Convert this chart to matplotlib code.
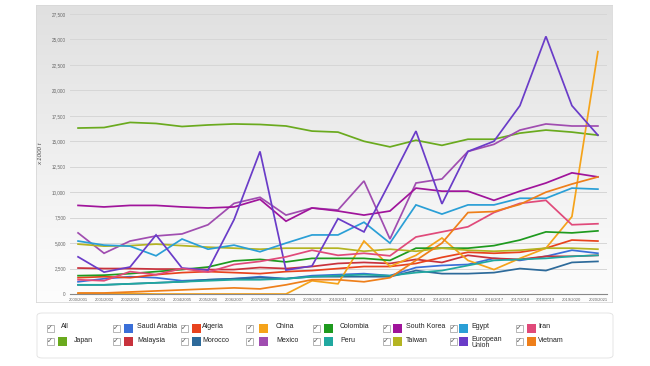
import matplotlib
matplotlib.use('Agg')
import matplotlib.pyplot as plt
import numpy as np
from matplotlib.colors import LinearSegmentedColormap
from matplotlib.patches import Rectangle, FancyBboxPatch

# temporadas
seasons = [f'{y}/{y + 1}' for y in range(2000, 2021)]

# importações de milho (x 1000 t)
japan = [16300, 16350, 16850, 16750, 16450, 16600, 16700, 16650, 16500, 16000, 15900,
         15000, 14450, 15100, 14600, 15200, 15200, 15800, 16100, 15900, 15600]
saudi_arabia = [1200, 1500, 1700, 1600, 1300, 1400, 1500, 1700, 1500, 1800, 1900,
                2000, 1800, 2600, 2800, 2900, 3500, 3300, 3700, 4300, 4000]
malaysia = [2550, 2500, 2500, 2450, 2450, 2400, 2400, 2600, 2500, 2700, 3000,
            3100, 3000, 3400, 3100, 3800, 3500, 3400, 3700, 3700, 3800]
algeria = [1600, 1700, 1600, 1900, 2100, 2200, 2100, 2000, 2200, 2300, 2500,
           2700, 2700, 3000, 3600, 4100, 4000, 4100, 4500, 5300, 5200]
morocco = [900, 900, 1000, 1100, 1200, 1400, 1500, 1600, 1500, 1700, 1700,
           1700, 1700, 2300, 2000, 2000, 2100, 2500, 2300, 3100, 3200]
china = [50, 50, 50, 0, 0, 0, 0, 0, 0, 1300, 1000,
         5200, 2700, 3800, 5500, 3300, 2400, 3500, 4500, 7600, 23800]
mexico = [6000, 4000, 5200, 5700, 5900, 6800, 8900, 9500, 7750, 8450, 8250,
          11100, 5400, 10900, 11300, 14000, 14700, 16100, 16700, 16500, 16500]
colombia = [1800, 1850, 2000, 2200, 2400, 2650, 3250, 3400, 3150, 3500, 3500,
            3500, 3300, 4500, 4500, 4500, 4750, 5300, 6100, 6000, 6200]
peru = [900, 900, 1000, 1100, 1200, 1300, 1400, 1400, 1500, 1700, 1800,
        1900, 1800, 2100, 2300, 2800, 3300, 3400, 3500, 3700, 3800]
south_korea = [8700, 8550, 8700, 8700, 8550, 8450, 8550, 9300, 7150, 8450, 8150,
               7750, 8150, 10400, 10100, 10100, 9200, 10100, 10900, 11900, 11500]
taiwan = [4900, 4700, 4750, 4900, 4750, 4600, 4500, 4400, 4500, 4500, 4500,
          4200, 4400, 4200, 4500, 4300, 4200, 4300, 4500, 4500, 4400]
egypt = [5200, 4800, 4700, 3750, 5400, 4400, 4800, 4150, 5000, 5800, 5800,
         7050, 5000, 8750, 7850, 8750, 8750, 9400, 9400, 10400, 10300]
european_union = [3650, 2150, 2650, 5800, 2550, 2350, 7300, 14000, 2350, 2750, 7400,
                  6100, 11000, 16000, 8850, 14000, 15000, 18500, 25300, 18500, 15600]
iran = [1400, 1300, 2200, 1900, 2500, 2150, 2900, 3200, 3650, 4300, 3800,
        4000, 3750, 5600, 6100, 6600, 8000, 8900, 9200, 6800, 6900]
vietnam = [100, 100, 200, 300, 400, 500, 600, 500, 900, 1400, 1400,
           1200, 1600, 3300, 5000, 8000, 8100, 8800, 10000, 10800, 11500]

series = [
    ('Japan', japan, '#6aaa1e'),
    ('Saudi Arabia', saudi_arabia, '#3a6fd8'),
    ('Malaysia', malaysia, '#c8323c'),
    ('Algeria', algeria, '#e8431e'),
    ('Morocco', morocco, '#2d6a9a'),
    ('China', china, '#f5a31a'),
    ('Mexico', mexico, '#a04db0'),
    ('Colombia', colombia, '#1e9a1e'),
    ('Peru', peru, '#20a8a0'),
    ('South Korea', south_korea, '#a0149b'),
    ('Taiwan', taiwan, '#b4b422'),
    ('Egypt', egypt, '#2a9fd6'),
    ('European Union', european_union, '#6a3cc8'),
    ('Iran', iran, '#e04a7a'),
    ('Vietnam', vietnam, '#ee7f1a'),
]

plt.rcParams['font.family'] = ['Liberation Sans', 'DejaVu Sans']

W, H = 650, 366
fig = plt.figure(figsize=(W / 100, H / 100), dpi=100)


def fx(px):
    return px / W


def fy(py):
    return 1 - py / H


# fundo do gráfico com degradê
bg = fig.add_axes([fx(36), fy(302), fx(612) - fx(36), fy(5) - fy(302)], zorder=0)
grad = np.linspace(0, 1, 256).reshape(-1, 1)
cmap_bg = LinearSegmentedColormap.from_list('bg', ['#e0e0e0', '#efefef', '#fdfdfd'])
bg.imshow(grad, aspect='auto', cmap=cmap_bg, extent=[0, 1, 0, 1])
bg.set_xlim(0, 1)
bg.set_ylim(0, 1)
for s in bg.spines.values():
    s.set_color('#d8d8d8')
    s.set_linewidth(0.6)
bg.set_xticks([])
bg.set_yticks([])

ax = fig.add_axes([fx(70), fy(294), fx(607) - fx(70), fy(14) - fy(294)], zorder=1)
ax.set_facecolor('none')

x = np.arange(len(seasons))
for nome, valores, cor in series:
    ax.plot(x, valores, color=cor, lw=1.25, solid_joinstyle='miter')

ax.set_ylim(0, 27500)
ax.set_xlim(-0.31, 20.35)
yt = np.arange(0, 27501, 2500)
ax.set_yticks(yt)
ax.set_yticklabels([f'{v:,}' for v in yt], fontsize=3.3, color='#666666')
ax.set_xticks(x)
ax.set_xticklabels(seasons, fontsize=3.0, color='#666666')
ax.tick_params(axis='both', length=0, pad=3)
ax.grid(axis='y', color='#d6d6d6', lw=0.7)
ax.set_axisbelow(True)
for lado in ['top', 'right', 'left']:
    ax.spines[lado].set_visible(False)
ax.spines['bottom'].set_color('#888888')
ax.spines['bottom'].set_linewidth(0.8)
ax.set_ylabel('x 1000 t', fontsize=4.6, style='italic', color='#555555', labelpad=6)

# legenda com caixas de seleção
box = FancyBboxPatch((fx(37), fy(358)), fx(613) - fx(37), fy(313) - fy(358),
                     boxstyle='round,pad=0,rounding_size=0.008',
                     transform=fig.transFigure, facecolor='white',
                     edgecolor='#e0e0e0', lw=0.6)
fig.patches.append(box)

colunas = [(50, 62, 74), (116, 128, 137), (184, 196, 202), (250, 263, 276),
           (316, 328, 340), (386, 397, 406), (453, 464, 471), (519, 531, 538)]
linhas = [328, 341]
entradas = [('All', None)] + [(n, c) for n, _, c in series]
ordem = [[0, 1], [2, 3], [4, 5], [6, 7], [8, 9], [10, 11], [12, 13], [14, 15]]
for ci, (cx, sx, tx) in enumerate(colunas):
    for ri, idx in enumerate(ordem[ci]):
        nome, cor = entradas[idx]
        py = linhas[ri]
        fig.patches.append(Rectangle((fx(cx - 3.5), fy(py + 3.5)), fx(7), 7 / H,
                                     transform=fig.transFigure, facecolor='white',
                                     edgecolor='#9a9a9a', lw=0.5))
        fig.text(fx(cx), fy(py), '✓', fontsize=5, color='#555555',
                 ha='center', va='center', family='DejaVu Sans')
        if nome == 'All':
            fig.text(fx(61), fy(py - 1.5), nome, fontsize=5, color='#222222',
                     ha='left', va='center')
            continue
        fig.patches.append(Rectangle((fx(sx - 4.5), fy(py + 4.5)), fx(9), 9 / H,
                                     transform=fig.transFigure, facecolor=cor,
                                     edgecolor='none'))
        if nome == 'European Union':
            fig.text(fx(tx), fy(py - 5), 'European\nUnion', fontsize=5,
                     color='#222222', ha='left', va='top', linespacing=0.85)
        else:
            fig.text(fx(tx), fy(py - 1), nome, fontsize=5, color='#222222',
                     ha='left', va='center')

plt.savefig('out.png', dpi=100)
plt.close()
